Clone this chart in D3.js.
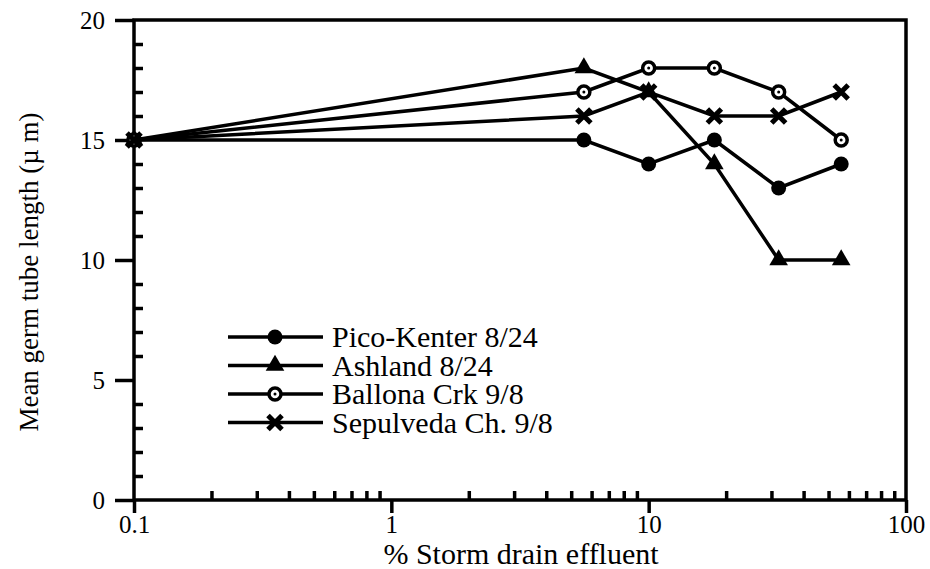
<!DOCTYPE html>
<html>
<head>
<meta charset="utf-8">
<script src="https://cdn.jsdelivr.net/npm/d3@7"></script>
<style>
  body { margin: 0; background: #fff; }
  text { font-family: "Liberation Serif", "DejaVu Serif", serif; fill: #000; }
</style>
</head>
<body>
<svg id="chart" width="930" height="569"></svg>
<script>
// data
var conc = [0.1, 5.6, 10, 18, 32, 56];
var picoKenter = [15, 15, 14, 15, 13, 14];
var ashland = [15, 18, 17, 14, 10, 10];
var ballona = [15, 17, 18, 18, 17, 15];
var sepulveda = [15, 16, 17, 16, 16, 17];
var seriesNames = ["Pico-Kenter 8/24", "Ashland 8/24", "Ballona Crk 9/8", "Sepulveda Ch. 9/8"];
var markers = ["dot", "triangle", "ring", "cross"];
var xTicks = [0.1, 1, 10, 100];
var yTicks = [0, 5, 10, 15, 20];

var series = [picoKenter, ashland, ballona, sepulveda];

var svg = d3.select("#chart");
var plotLeft = 134, plotRight = 906, plotTop = 20, plotBottom = 500;
var lw = 3.5;

var x = d3.scaleLog().domain([0.1, 100]).range([plotLeft, plotRight]);
var y = d3.scaleLinear().domain([0, 20]).range([plotBottom, plotTop]);

// minor ticks
var xMinor = [];
[0.1, 1, 10].forEach(function(d) {
    for (var k = 2; k <= 9; k++) xMinor.push(d * k);
});
var yMinor = d3.range(0, 21).filter(function(d) { return d % 5 !== 0; });

// frame
svg.append("rect")
    .attr("x", plotLeft).attr("y", plotTop)
    .attr("width", plotRight - plotLeft).attr("height", plotBottom - plotTop)
    .attr("fill", "none").attr("stroke", "#000").attr("stroke-width", lw);

// y axis
var yAxis = svg.append("g")
    .attr("transform", "translate(" + plotLeft + ",0)")
    .call(d3.axisLeft(y).tickValues(yTicks).tickSize(19).tickPadding(10));
yAxis.select(".domain").remove();
yAxis.selectAll("line").attr("stroke-width", lw);
yAxis.selectAll("text").style("font-size", "25px").style("font-family", "Liberation Serif");

var yAxisMinor = svg.append("g")
    .attr("transform", "translate(" + plotLeft + ",0)")
    .call(d3.axisRight(y).tickValues(yMinor).tickSize(9).tickFormat(""));
yAxisMinor.select(".domain").remove();
yAxisMinor.selectAll("line").attr("stroke-width", lw);

// x axis
var xAxis = svg.append("g")
    .attr("transform", "translate(0," + plotBottom + ")")
    .call(d3.axisBottom(x).tickValues(xTicks).tickSize(13).tickPadding(2)
        .tickFormat(function(d) { return d < 1 ? "0.1" : d3.format("d")(d); }));
xAxis.select(".domain").remove();
xAxis.selectAll("line").attr("stroke-width", lw);
xAxis.selectAll("text").style("font-size", "25px").style("font-family", "Liberation Serif");

var xAxisMinor = svg.append("g")
    .attr("transform", "translate(0," + plotBottom + ")")
    .call(d3.axisTop(x).tickValues(xMinor).tickSize(9).tickFormat(""));
xAxisMinor.select(".domain").remove();
xAxisMinor.selectAll("line").attr("stroke-width", lw);

// axis titles
svg.append("text")
    .attr("x", 521).attr("y", 564)
    .attr("text-anchor", "middle")
    .style("font-size", "30px")
    .text("% Storm drain effluent");

svg.append("text")
    .attr("transform", "translate(38,272) rotate(-90)")
    .attr("text-anchor", "middle")
    .style("font-size", "27px")
    .text("Mean germ tube length (\u00b5 m)");

function drawMarker(g, type) {
    if (type === "dot") {
        g.append("circle").attr("r", 7.5).attr("fill", "#000");
    } else if (type === "triangle") {
        g.append("path").attr("d", d3.symbol().type(d3.symbolTriangle).size(150)).attr("fill", "#000");
    } else if (type === "ring") {
        g.append("circle").attr("r", 6).attr("fill", "#fff").attr("stroke", "#000").attr("stroke-width", 3.5);
        g.append("circle").attr("r", 1.5).attr("fill", "#000");
    } else {
        g.append("path").attr("d", "M-7,-7L7,7M-7,7L7,-7")
            .attr("stroke", "#000").attr("stroke-width", 5).attr("fill", "none");
    }
}

var line = d3.line()
    .x(function(d) { return x(d[0]); })
    .y(function(d) { return y(d[1]); });

series.forEach(function(vals, i) {
    var pts = conc.map(function(c, j) { return [c, vals[j]]; });
    svg.append("path")
        .datum(pts)
        .attr("d", line)
        .attr("fill", "none").attr("stroke", "#000").attr("stroke-width", lw);
    pts.forEach(function(p) {
        var g = svg.append("g").attr("transform", "translate(" + x(p[0]) + "," + y(p[1]) + ")");
        drawMarker(g, markers[i]);
    });
});

// legend
var legend = svg.append("g").attr("transform", "translate(228,337)");
seriesNames.forEach(function(name, i) {
    var row = legend.append("g").attr("transform", "translate(0," + (i * 28.5) + ")");
    row.append("line").attr("x1", 0).attr("x2", 95).attr("y1", 0).attr("y2", 0)
        .attr("stroke", "#000").attr("stroke-width", lw);
    drawMarker(row.append("g").attr("transform", "translate(47,0)"), markers[i]);
    row.append("text").attr("x", 104).attr("y", 10)
        .style("font-size", "30px")
        .text(name);
});
</script>
</body>
</html>
